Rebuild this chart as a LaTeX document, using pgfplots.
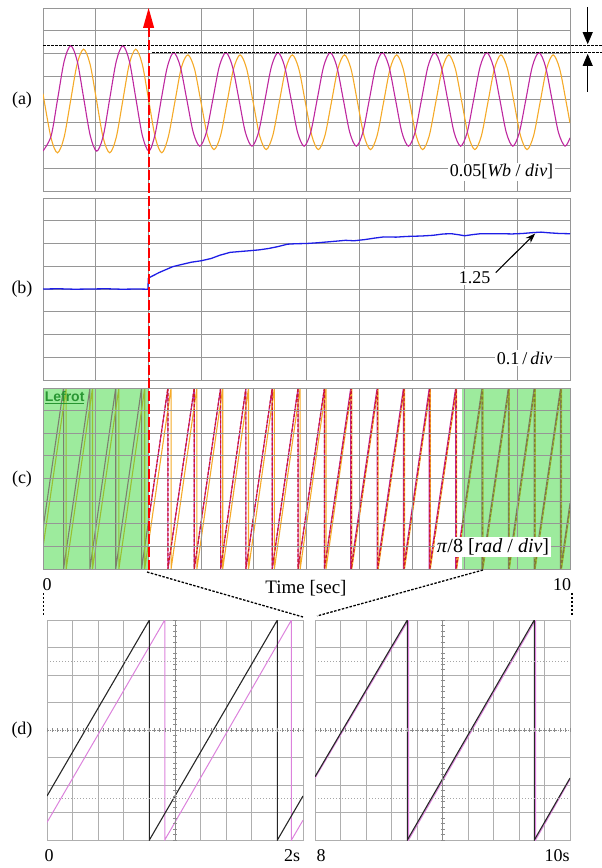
\documentclass[border=0pt]{standalone}
\usepackage{fontspec}
\setmainfont{Liberation Serif}
\setsansfont{Liberation Sans}
\usepackage{pgfplots}
\pgfplotsset{compat=1.18}
\usetikzlibrary{arrows.meta}

\definecolor{scgrid}{RGB}{150,150,150}
\definecolor{mag}{RGB}{190,40,160}
\definecolor{org}{RGB}{245,170,40}
\definecolor{redd}{RGB}{205,25,45}
\definecolor{bblue}{RGB}{30,30,230}
\definecolor{gfill}{RGB}{60,215,60}
\definecolor{dmag}{RGB}{220,130,220}
\definecolor{dgrid}{RGB}{175,175,175}
\definecolor{lgreen}{RGB}{40,150,50}

\pgfplotsset{
  scope/.style={scale only axis, width=527pt, height=182pt, xmin=0, xmax=10, ymin=-4, ymax=4,
    xtick={0,...,10}, ytick={-4,...,4}, grid=major,
    major grid style={draw=scgrid, line width=0.8pt}, axis line style={draw=scgrid, line width=0.9pt},
    xticklabels={}, yticklabels={}, major tick length=0pt, anchor=south west},
  dscope/.style={scale only axis, height=220pt, xmin=0, xmax=10, ymin=-4, ymax=4,
    xtick={0,1,2,3,4,6,7,8,9,10}, ytick={-4,-3,-2,-1,1,2,3,4}, grid=major,
    major grid style={draw=dgrid, line width=0.8pt}, axis line style={draw=dgrid, line width=0.9pt},
    xticklabels={}, yticklabels={}, major tick length=0pt, anchor=south west},
}
\newcommand{\lab}{\fontsize{18}{20}\selectfont}

\begin{document}
\begin{tikzpicture}[x=1pt,y=1pt]
\useasboundingbox (0,0) rectangle (602,868);

% ---------------- (a) ----------------
\begin{axis}[scope, at={(43pt,677pt)}, height=183pt]
\addplot[org, line width=1.1pt, smooth] table {
0 0.25
0.151 -1.666
0.275 -2.33
0.399 -1.666
0.523 -0.065
0.646 1.536
0.770 2.20
0.894 1.536
1.018 -0.065
1.141 -1.666
1.265 -2.33
1.389 -1.666
1.513 -0.065
1.636 1.536
1.760 2.20
1.884 1.536
2.008 -0.065
2.131 -1.666
2.255 -2.33
2.379 -1.62
2.503 -0.10
2.626 1.40
2.750 1.95
2.874 1.344
2.998 -0.12
3.121 -1.584
3.245 -2.19
3.369 -1.584
3.493 -0.12
3.616 1.344
3.740 1.95
3.864 1.344
3.988 -0.12
4.111 -1.584
4.235 -2.19
4.359 -1.584
4.483 -0.12
4.606 1.344
4.730 1.95
4.854 1.344
4.978 -0.12
5.101 -1.584
5.225 -2.19
5.349 -1.584
5.473 -0.12
5.596 1.344
5.720 1.95
5.844 1.344
5.968 -0.12
6.091 -1.584
6.215 -2.19
6.339 -1.584
6.463 -0.12
6.586 1.344
6.710 1.95
6.834 1.344
6.958 -0.12
7.081 -1.584
7.205 -2.19
7.329 -1.584
7.453 -0.12
7.576 1.344
7.700 1.95
7.824 1.344
7.948 -0.12
8.071 -1.584
8.195 -2.19
8.319 -1.584
8.443 -0.12
8.566 1.344
8.690 1.95
8.814 1.344
8.938 -0.12
9.061 -1.584
9.185 -2.19
9.309 -1.584
9.433 -0.12
9.556 1.344
9.680 1.95
9.804 1.344
9.928 -0.12
10.0 -1.03
};
\addplot[mag, line width=1.1pt, smooth] table {
0 -2.25
0.155 -1.585
0.279 0.045
0.402 1.675
0.526 2.35
0.650 1.675
0.773 0.045
0.897 -1.585
1.020 -2.26
1.144 -1.585
1.267 0.045
1.391 1.675
1.515 2.35
1.639 1.675
1.762 0.045
1.886 -1.585
2.010 -2.26
2.127 -1.52
2.245 0.02
2.362 1.45
2.480 2.05
2.604 1.451
2.728 0.005
2.851 -1.441
2.975 -2.04
3.099 -1.441
3.223 0.005
3.346 1.451
3.470 2.05
3.594 1.451
3.718 0.005
3.841 -1.441
3.965 -2.04
4.089 -1.441
4.213 0.005
4.336 1.451
4.460 2.05
4.584 1.451
4.708 0.005
4.831 -1.441
4.955 -2.04
5.079 -1.441
5.203 0.005
5.326 1.451
5.450 2.05
5.574 1.451
5.698 0.005
5.821 -1.441
5.945 -2.04
6.069 -1.441
6.193 0.005
6.316 1.451
6.440 2.05
6.564 1.451
6.688 0.005
6.811 -1.441
6.935 -2.04
7.059 -1.441
7.183 0.005
7.306 1.451
7.430 2.05
7.554 1.451
7.678 0.005
7.801 -1.441
7.925 -2.04
8.049 -1.441
8.173 0.005
8.296 1.451
8.420 2.05
8.544 1.451
8.668 0.005
8.791 -1.441
8.915 -2.04
9.039 -1.441
9.163 0.005
9.286 1.451
9.410 2.05
9.534 1.451
9.658 0.005
9.781 -1.441
9.905 -2.04
10.0 -1.68
};
\node[fill=white, inner sep=1.5pt, font=\lab] at (axis cs:8.7,-3.16) {0.05[\textit{Wb} / \textit{div}]};
\end{axis}

% ---------------- (b) ----------------
\begin{axis}[scope, at={(43pt,488pt)}, ymin=0.6, ymax=1.4, ytick={0.6,0.7,0.8,0.9,1.0,1.1,1.2,1.3,1.4}]
\addplot[bblue, line width=1.3pt] table {
0 1.000
0.3 1.001
0.6 0.999
0.9 1.000
1.2 1.001
1.5 0.999
1.8 1.000
1.99 0.999
2.0 1.048
2.1 1.060
2.2 1.072
2.3 1.082
2.46 1.098
2.6 1.106
2.82 1.118
3.0 1.124
3.19 1.134
3.35 1.148
3.55 1.161
3.75 1.165
3.91 1.168
4.1 1.172
4.28 1.178
4.45 1.186
4.64 1.197
4.8 1.199
5.0 1.200
5.2 1.203
5.4 1.207
5.6 1.211
5.74 1.214
5.9 1.212
6.1 1.217
6.3 1.224
6.47 1.229
6.7 1.228
6.9 1.231
7.19 1.233
7.4 1.236
7.6 1.242
7.75 1.243
7.9 1.238
8.0 1.234
8.15 1.239
8.3 1.243
8.5 1.243
8.7 1.243
8.9 1.242
9.1 1.244
9.3 1.248
9.45 1.250
9.6 1.247
9.8 1.244
10 1.243
};
\draw[-{Stealth[length=10pt,width=7pt]}, line width=1.1pt] (axis cs:8.59,1.072) -- (axis cs:9.34,1.244);
\node[fill=white, inner sep=2pt, font=\lab] at (axis cs:8.19,1.051) {1.25};
\node[fill=white, inner sep=2pt, font=\lab] at (axis cs:9.14,0.697) {0.1\,/\,\textit{div}};
\end{axis}

% ---------------- (c) ----------------
\begin{axis}[scope, at={(43pt,299pt)}, height=181pt]
\addplot[mag, line width=1.1pt] table {
0 -2.22
0.39 4
0.39 -4
0.89 4
0.89 -4
1.38 4
1.38 -4
1.87 4
1.87 -4
2.37 4
2.37 -4
2.87 4
2.87 -4
3.37 4
3.37 -4
3.85 4
3.85 -4
4.35 4
4.35 -4
4.84 4
4.84 -4
5.34 4
5.34 -4
5.84 4
5.84 -4
6.34 4
6.34 -4
6.84 4
6.84 -4
7.33 4
7.33 -4
7.83 4
7.83 -4
8.33 4
8.33 -4
8.83 4
8.83 -4
9.32 4
9.32 -4
9.82 4
9.82 -4
10 -1.09
};
\addplot[org, line width=1.1pt] table {
0 -3.04
0.44 4
0.44 -4
0.94 4
0.94 -4
1.44 4
1.44 -4
1.93 4
1.93 -4
2.43 4
2.43 -4
2.92 4
2.92 -4
3.41 4
3.41 -4
3.90 4
3.90 -4
4.39 4
4.39 -4
4.88 4
4.88 -4
5.37 4
5.37 -4
5.86 4
5.86 -4
6.36 4
6.36 -4
6.86 4
6.86 -4
7.35 4
7.35 -4
7.85 4
7.85 -4
8.35 4
8.35 -4
8.85 4
8.85 -4
9.34 4
9.34 -4
9.84 4
9.84 -4
10 -1.39
};
\addplot[redd, line width=1.2pt, dash pattern=on 3pt off 2pt] table {
2.0 -1.9
2.37 4
2.37 -4
2.87 4
2.87 -4
3.37 4
3.37 -4
3.85 4
3.85 -4
4.35 4
4.35 -4
4.84 4
4.84 -4
5.34 4
5.34 -4
5.85 4
5.85 -4
6.35 4
6.35 -4
6.85 4
6.85 -4
7.34 4
7.34 -4
7.84 4
7.84 -4
8.34 4
8.34 -4
8.84 4
8.84 -4
9.33 4
9.33 -4
9.83 4
9.83 -4
10 -1.25
};
\fill[gfill, fill opacity=0.5] (axis cs:0,-4) rectangle (axis cs:2,4);
\fill[gfill, fill opacity=0.5] (axis cs:7.96,-4) rectangle (axis cs:10,4);
\coordinate (pilab) at (axis cs:8.54,-3.03);
\coordinate (lefrot) at (axis cs:0.03,3.85);
\end{axis}
% grid of (c) redrawn on top of traces and shading
\foreach \k in {1,...,9} { \draw[scgrid, line width=0.8pt] (43+\k*52.7,299) -- ++(0,181); }
\foreach \k in {1,...,7} { \draw[scgrid, line width=0.8pt] (43,299+\k*22.625) -- ++(527,0); }
\draw[scgrid, line width=0.9pt] (43,299) rectangle (570,480);
\node[fill=white, inner sep=2pt, font=\fontsize{20}{22}\selectfont] at (pilab) {\textit{π}/8 [\textit{rad} / \textit{div}]};
\node[anchor=north west, inner sep=0pt, text=lgreen, font=\sffamily\bfseries\fontsize{14}{15}\selectfont] at (lefrot) {\underline{Lefrot}};

% ---------------- (d) left ----------------
\begin{axis}[dscope, at={(47pt,28pt)}, width=256pt]
\addplot[dmag, line width=1pt] table {
0 -3.36
4.6 4
4.6 -4
9.55 4
9.55 -4
10 -3.28
};
\addplot[black!85, line width=1.1pt] table {
0 -2.4
4 4
4 -4
9 4
9 -4
10 -2.4
};
\end{axis}

% ---------------- (d) right ----------------
\begin{axis}[dscope, at={(315pt,28pt)}, width=255pt]
\addplot[dmag, line width=1pt] table {
0 -1.75
3.67 4
3.67 -4
8.65 4
8.65 -4
10 -1.8
};
\addplot[black!85, line width=1.1pt] table {
0 -1.70
3.62 4
3.62 -4
8.6 4
8.6 -4
10 -1.75
};
\end{axis}

% center lines with ticks and dotted lines in (d)
\foreach \xo/\w in {47/256, 315/255} {
  \draw[black!35, line width=0.5pt, dash pattern=on 1pt off 2pt] (\xo,206.75) -- ++(\w,0);
  \draw[black!35, line width=0.5pt, dash pattern=on 1pt off 2pt] (\xo,69.25) -- ++(\w,0);
  \draw[black!45, line width=0.6pt, dash pattern=on 1.5pt off 1pt] (\xo,138) -- ++(\w,0);
  \draw[black!45, line width=0.6pt] (\xo+\w/2,28) -- ++(0,220);
  \foreach \k in {0,...,50} { \draw[black!45, line width=0.5pt] (\xo+\k*\w/50,136) -- ++(0,4); }
  \foreach \k in {0,...,40} { \draw[black!45, line width=0.5pt] (\xo+\w/2-2,28+\k*5.5) -- ++(4,0); }
}

% dotted reference lines and arrows in (a)
\draw[line width=1.6pt, dash pattern=on 2.5pt off 1.5pt] (43.3,822.5) -- (602,822.5);
\draw[line width=1.6pt, dash pattern=on 2.5pt off 1.5pt] (152,815.4) -- (602,815.4);
\draw[line width=0.9pt, -{Triangle[length=12pt,width=10pt]}] (587.7,861) -- (587.7,823.8);
\draw[line width=0.9pt, -{Triangle[length=12pt,width=10pt]}] (587.7,776) -- (587.7,814.1);

% red event marker
\draw[red, line width=1.8pt, dash pattern=on 10pt off 3pt] (148.6,841) -- (148.6,297);
\fill[red] (148.6,860) -- (143,840) -- (154.2,840) -- cycle;

% connectors
\draw[line width=1.3pt, dash pattern=on 2.5pt off 1.5pt] (147,296) -- (303,251);
\draw[line width=1.3pt, dash pattern=on 2.5pt off 1.5pt] (483,298) -- (317,252);
\draw[line width=1.3pt, dash pattern=on 2.5pt off 1.5pt] (43.5,275) -- (43.5,251);
\draw[line width=1.3pt, dash pattern=on 2.5pt off 1.5pt] (572,275) -- (572,251);

% labels
\node[font=\lab] at (22,768) {(a)};
\node[font=\lab] at (22,579) {(b)};
\node[font=\lab] at (22,389) {(c)};
\node[font=\lab] at (22,138) {(d)};
\node[font=\lab] at (47,283) {0};
\node[font=\lab] at (562,283) {10};
\node[font=\fontsize{19}{21}\selectfont] at (306,280) {Time [sec]};
\node[font=\lab] at (49,12) {0};
\node[font=\lab] at (292,12) {2s};
\node[font=\lab] at (321,12) {8};
\node[font=\lab] at (557,12) {10s};
\end{tikzpicture}
\end{document}
